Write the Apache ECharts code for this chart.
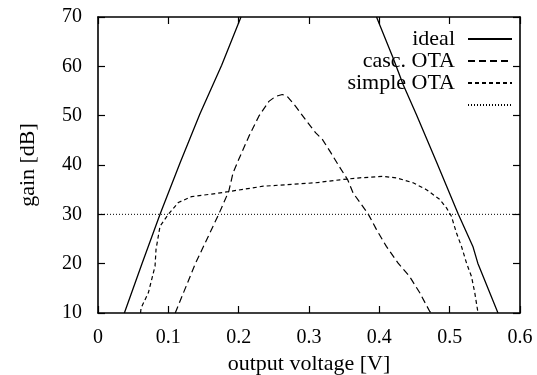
<!DOCTYPE html>
<html>
<head>
<meta charset="utf-8">
<script src="https://cdn.jsdelivr.net/npm/echarts@6/dist/echarts.min.js"></script>
<style>
html,body{margin:0;padding:0;background:#fff;}
#chart{width:537px;height:375px;}
</style>
</head>
<body>
<div id="chart"></div>
<script>
// x: output voltage [V], y: gain [dB]
const xTicks = [0, 0.1, 0.2, 0.3, 0.4, 0.5, 0.6];
const yTicks = [10, 20, 30, 40, 50, 60, 70];
const seriesNames = ['ideal', 'casc. OTA', 'simple OTA', ' '];

const idealLeft = [[0.0375,10],[0.0625,20],[0.0882,30],[0.1166,40.4],[0.145,50.4],[0.1758,60.2],[0.2033,70]];
const idealRight = [[0.396,70],[0.4196,61.7],[0.4338,56.3],[0.4528,50.2],[0.481,40.7],[0.512,30.1],[0.533,23.5],[0.540,20.1],[0.5687,10]];
const cascOTA = [[0.1098,10],[0.1384,20],[0.1716,30],[0.186,34.7],[0.192,38.4],[0.200,41.1],[0.2145,45.8],[0.2287,49.9],[0.243,52.9],[0.2525,53.9],[0.262,54.3],[0.269,53.9],[0.281,51.9],[0.295,49.2],[0.3096,46.5],[0.319,45.2],[0.331,42.5],[0.343,39.7],[0.355,37],[0.3628,34.3],[0.384,30.1],[0.396,26.9],[0.410,23.5],[0.4267,20.1],[0.443,17.4],[0.4575,14.1],[0.4717,10.3],[0.474,10]];
const simpleOTA = [[0.0605,10],[0.0612,11],[0.0716,14.1],[0.0811,19.5],[0.0825,22.9],[0.0882,27.6],[0.100,30],[0.1142,32.4],[0.1332,33.6],[0.1616,34.1],[0.1852,34.6],[0.235,35.7],[0.3096,36.4],[0.344,37],[0.372,37.4],[0.405,37.7],[0.424,37.4],[0.448,36.4],[0.467,35],[0.486,33],[0.4955,31.3],[0.5025,29.6],[0.5097,26.2],[0.5168,23.5],[0.524,20.1],[0.531,17.4],[0.5357,14.1],[0.540,10.3],[0.541,10]];
const threshold = [[0,30],[0.6,30]];

const FONT = "'Liberation Serif','Times New Roman',serif";
const chart = echarts.init(document.getElementById('chart'), null, {renderer:'canvas'});

function axisCommon(extra) {
  return Object.assign({
    type: 'value',
    axisLine: {show: true, onZero: false, lineStyle: {color: '#000', width: 1.6}},
    axisTick: {show: true, inside: true, length: 7, lineStyle: {color: '#000', width: 1.2}},
    splitLine: {show: false},
    axisLabel: {show: false}
  }, extra);
}

const option = {
  backgroundColor: '#fff',
  animation: false,
  textStyle: {fontFamily: FONT, color: '#000'},
  grid: {left: 98, right: 17, top: 17, bottom: 62, containLabel: false, outerBoundsMode: 'none'},
  legend: {
    orient: 'vertical', right: 24, top: 28, align: 'right',
    itemWidth: 44, itemHeight: 22, itemGap: 0, padding: 0,
    data: seriesNames,
    selectedMode: false,
    itemStyle: {opacity: 0},
    textStyle: {fontFamily: FONT, fontSize: 22, color: '#000', padding: [0, 8, 0, 0]}
  },
  xAxis: [
    axisCommon({
      min: xTicks[0], max: xTicks[xTicks.length-1], interval: 0.1, position: 'bottom',
      name: 'output voltage [V]', nameLocation: 'middle', nameGap: 31,
      nameTextStyle: {fontFamily: FONT, fontSize: 22, color: '#000'},
      axisLabel: {show: true, margin: 15, fontFamily: FONT, fontSize: 20, color: '#000',
        formatter: v => (Math.abs(v) < 1e-9 ? '0' : (+v).toFixed(1))}
    }),
    axisCommon({min: xTicks[0], max: xTicks[xTicks.length-1], interval: 0.1, position: 'top'})
  ],
  yAxis: [
    axisCommon({
      min: yTicks[0], max: yTicks[yTicks.length-1], interval: 10, position: 'left',
      name: 'gain [dB]', nameLocation: 'middle', nameGap: 59,
      nameTextStyle: {fontFamily: FONT, fontSize: 22, color: '#000'},
      axisLabel: {show: true, margin: 16, fontFamily: FONT, fontSize: 20, color: '#000'}
    }),
    axisCommon({min: yTicks[0], max: yTicks[yTicks.length-1], interval: 10, position: 'right'})
  ],
  series: [
    {name: seriesNames[0], type: 'line', data: idealLeft, symbol: 'none', lineStyle: {color: '#000', width: 1.3, type: 'solid'}, itemStyle: {color: '#000'}},
    {name: seriesNames[0], type: 'line', data: idealRight, symbol: 'none', lineStyle: {color: '#000', width: 1.3, type: 'solid'}, itemStyle: {color: '#000'}},
    {name: seriesNames[1], type: 'line', data: cascOTA, symbol: 'none', lineStyle: {color: '#000', width: 1.2, type: [7, 4]}, itemStyle: {color: '#000'}},
    {name: seriesNames[2], type: 'line', data: simpleOTA, symbol: 'none', lineStyle: {color: '#000', width: 1.2, type: [4, 3]}, itemStyle: {color: '#000'}},
    {name: seriesNames[3], type: 'line', data: threshold, symbol: 'none', lineStyle: {color: '#000', width: 1, type: [1, 2]}, itemStyle: {color: '#000'}}
  ]
};
chart.setOption(option);
</script>
</body>
</html>
